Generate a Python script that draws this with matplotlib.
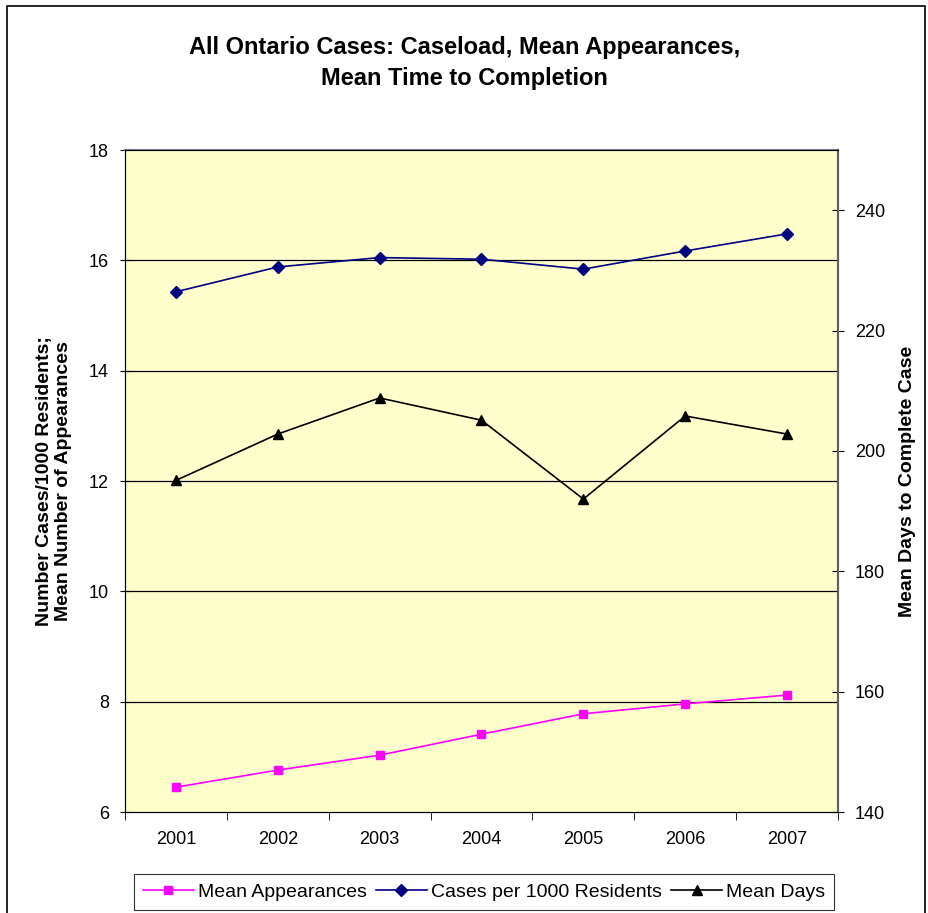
import matplotlib.pyplot as plt
from matplotlib.patches import Rectangle

plt.rcParams['font.family'] = ['Liberation Sans', 'DejaVu Sans']

years = ['2001', '2002', '2003', '2004', '2005', '2006', '2007']
mean_appearances = [6.45, 6.76, 7.03, 7.41, 7.78, 7.96, 8.12]
cases_per_1000 = [15.43, 15.88, 16.05, 16.02, 15.84, 16.17, 16.48]
mean_days = [195.1, 202.8, 208.8, 205.1, 192.0, 205.8, 202.8]

fig = plt.figure(figsize=(9.29, 9.13), dpi=100)
fig.patches.append(Rectangle((7 / 929, -0.01), 918 / 929, 1 - 6 / 913 + 0.01,
                             transform=fig.transFigure, fill=False,
                             edgecolor='black', linewidth=1.2))

ax = fig.add_axes([125 / 929, 1 - 812 / 913, 713 / 929, 662 / 913])
ax.set_facecolor('#FFFFCC')
x = list(range(len(years)))

l1, = ax.plot(x, mean_appearances, color='#FF00FF', marker='s', markersize=6,
              linewidth=1.2, label='Mean Appearances', zorder=3)
l2, = ax.plot(x, cases_per_1000, color='#000080', marker='D', markersize=6,
              linewidth=1.2, label='Cases per 1000 Residents', zorder=3)

ax.set_xlim(-0.5, len(years) - 0.5)
ax.set_ylim(6, 18)
ax.set_yticks(range(6, 19, 2))
ax.set_xticks(x)
ax.set_xticklabels(years, fontsize=13)
ax.set_xticks([i - 0.5 for i in range(len(years) + 1)], minor=True)
ax.tick_params(axis='x', which='major', length=0, pad=14)
ax.tick_params(axis='x', which='minor', length=6, direction='out')
ax.tick_params(axis='y', labelsize=13, length=7, direction='inout', pad=8)
for v in range(8, 18, 2):
    ax.axhline(v, color='black', linewidth=0.9, zorder=1)
for side in ['top', 'right']:
    ax.spines[side].set_color('#808080')
    ax.spines[side].set_linewidth(1.5)
ax.set_ylabel('Number Cases/1000 Residents;\nMean Number of Appearances',
              fontsize=14, fontweight='bold', labelpad=12)

ax2 = ax.twinx()
l3, = ax2.plot(x, mean_days, color='black', marker='^', markersize=7,
               linewidth=1.2, label='Mean Days', zorder=3)
ax2.set_ylim(140, 250)
ax2.set_yticks(range(140, 241, 20))
ax2.tick_params(axis='y', labelsize=13, length=8, direction='inout', pad=8)
ax2.spines['right'].set_color('#606060')
ax2.spines['right'].set_linewidth(1.5)
ax2.set_ylabel('Mean Days to Complete Case', fontsize=14, fontweight='bold',
               labelpad=10)

fig.text(0.5, 1 - 63 / 913, 'All Ontario Cases: Caseload, Mean Appearances,\nMean Time to Completion',
         ha='center', va='center', fontsize=17, fontweight='bold', linespacing=1.4)

leg = fig.legend(handles=[l1, l2, l3], loc='center', ncol=3,
                 bbox_to_anchor=(484 / 929, 1 - 892 / 913), fontsize=14,
                 frameon=True, fancybox=False, edgecolor='black',
                 handlelength=2.6, handletextpad=0.2, columnspacing=0.5,
                 borderpad=0.45, borderaxespad=0.2)
leg.get_frame().set_linewidth(0.8)

fig.savefig('out.png', dpi=100)
plt.close(fig)
